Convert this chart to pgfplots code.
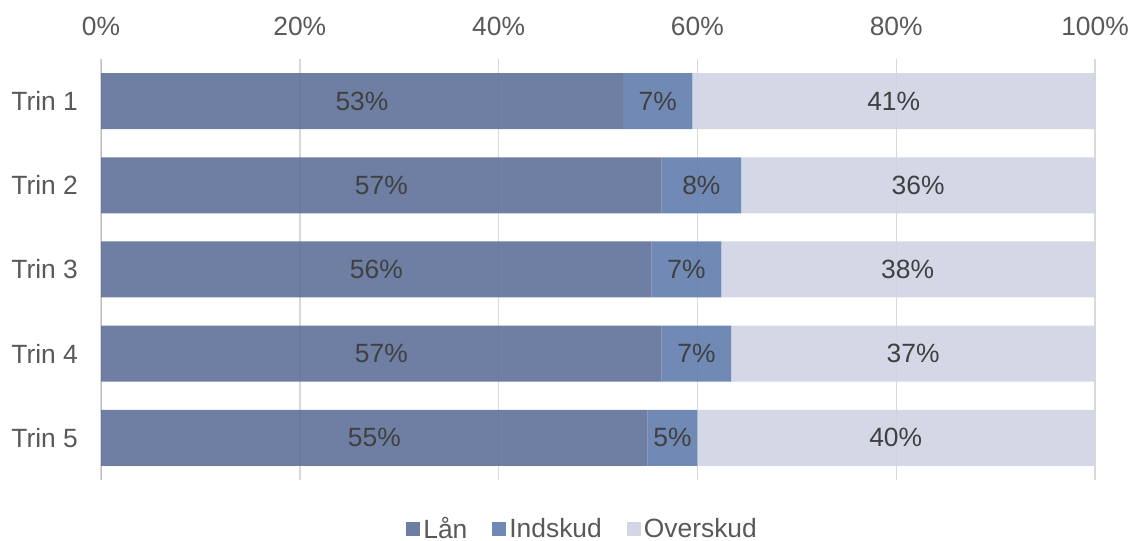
\documentclass[border=0pt]{standalone}
\usepackage{pgfplots}
\pgfplotsset{compat=1.18}
\usepackage{fontspec}
\setmainfont{Liberation Sans}
\definecolor{lan}{HTML}{5E7199}
\definecolor{ind}{HTML}{617CAD}
\definecolor{ovr}{HTML}{CFD3E3}
\definecolor{txt}{HTML}{595959}
\definecolor{lbl}{HTML}{404040}
\definecolor{grd}{HTML}{D9D9D9}
\begin{document}
\begin{tikzpicture}
\begin{axis}[
  scale only axis, width=497pt, height=210.5pt,
  xbar stacked, bar width=28pt,
  xmin=0, xmax=100, ymin=0.5, ymax=5.5, y dir=reverse,
  ytick={1,2,3,4,5},
  yticklabels={Trin 1,Trin 2,Trin 3,Trin 4,Trin 5},
  xtick={0,20,40,60,80,100},
  xticklabel={\pgfmathprintnumber{\tick}\%},
  /pgf/number format/assume math mode=true,
  xticklabel pos=upper,
  major tick length=0pt,
  axis line style={draw=none},
  xmajorgrids, major grid style={grd, line width=0.7pt},
  tick label style={font=\fontsize{13.2}{15}\selectfont, text=txt},
  yticklabel style={xshift=-8pt},
  xticklabel style={yshift=8pt},
  point meta=explicit symbolic,
  nodes near coords,
  every node near coord/.append style={font=\fontsize{13.2}{15}\selectfont, text=lbl, anchor=center},
  legend style={at={(0.485,0)}, anchor=center, yshift=-24.5pt, draw=none, legend columns=-1,
    font=\fontsize{13.2}{15}\selectfont, text=txt, inner sep=1pt,
    nodes={inner sep=1.5pt},
    /tikz/every even column/.append style={column sep=11pt}},
]
\addplot[fill=lan, draw=none, fill opacity=0.9, text opacity=1,
  legend image code/.code={\fill[lan] (-1pt,-3.5pt) rectangle (6pt,3.5pt);}]
  coordinates {(52.5,1)[53\%] (56.4,2)[57\%] (55.4,3)[56\%] (56.4,4)[57\%] (55.0,5)[55\%]};
\addlegendentry{Lån}
\addplot[fill=ind, draw=none, fill opacity=0.9, text opacity=1,
  legend image code/.code={\fill[ind] (-1pt,-3.5pt) rectangle (6pt,3.5pt);}]
  coordinates {(7.0,1)[7\%] (8.0,2)[8\%] (7.0,3)[7\%] (7.0,4)[7\%] (5.0,5)[5\%]};
\addlegendentry{Indskud}
\addplot[fill=ovr, draw=none, fill opacity=0.9, text opacity=1,
  legend image code/.code={\fill[ovr] (-1pt,-3.5pt) rectangle (6pt,3.5pt);}]
  coordinates {(40.5,1)[41\%] (35.6,2)[36\%] (37.5,3)[38\%] (36.6,4)[37\%] (39.9,5)[40\%]};
\addlegendentry{Overskud}
\draw[color=black!25, line width=0.9pt] (axis cs:0,0.5) -- (axis cs:0,5.5);
\end{axis}
\path (current axis.south west)+(-50.5pt,-30.5pt) coordinate (bl);
\path (current axis.north east)+(18.5pt,29.5pt) coordinate (tr);
\pgfresetboundingbox
\useasboundingbox (bl) rectangle (tr);
\end{tikzpicture}
\end{document}
